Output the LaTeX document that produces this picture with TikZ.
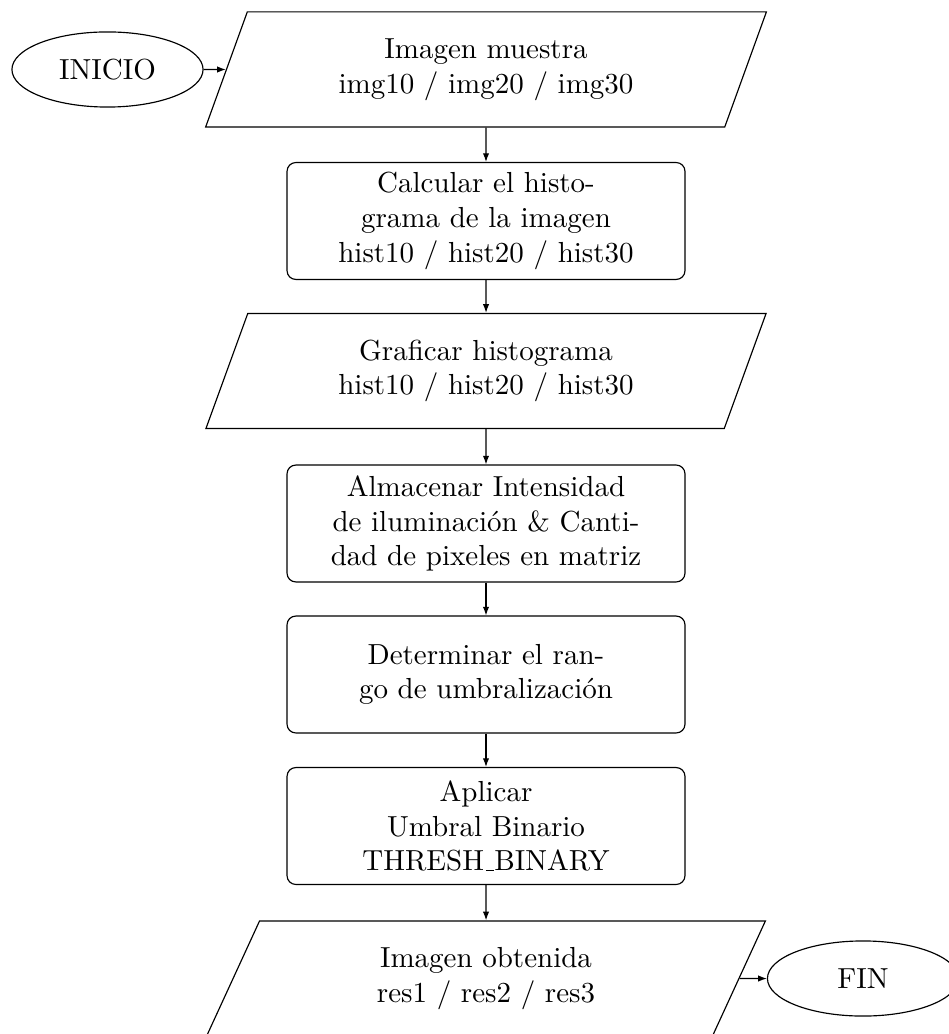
\documentclass[tikz,border=0pt]{standalone}
\usetikzlibrary{shapes.geometric,arrows.meta}
\begin{document}
\begin{tikzpicture}[x=0.3448pt,y=-0.3448pt,
  io/.style={trapezium, trapezium left angle=70, trapezium right angle=110, draw, line width=0.4pt,
    minimum width=193.4pt, minimum height=39.7pt, trapezium stretches=true, align=center, inner sep=2pt},
  proc/.style={rectangle, rounded corners=3pt, draw, line width=0.4pt, minimum width=137.2pt,
    minimum height=40.3pt, align=center, inner sep=2pt},
  term/.style={ellipse, draw, line width=0.4pt, minimum width=65.9pt, minimum height=25.9pt, inner sep=1pt},
  arr/.style={draw, line width=0.4pt, -{Latex[length=3pt,width=2.2pt]}}]
\useasboundingbox (0,0) rectangle (948,1034);
\node[term] (ini) at (107.5,69.5) {INICIO};
\node[io] (p1) at (486,69.5) {Imagen muestra\\img10 / img20 / img30};
\node[proc] (b2) at (486,221) {Calcular el histo-\\grama de la imagen\\hist10 / hist20 / hist30};
\node[io] (p2) at (486,371) {Graficar histograma\\hist10 / hist20 / hist30};
\node[proc] (b3) at (486,523.5) {Almacenar Intensidad\\de iluminación \& Canti-\\dad de pixeles en matriz};
\node[proc] (b4) at (486,674.5) {Determinar el ran-\\go de umbralización};
\node[proc] (b5) at (486,826) {Aplicar\\Umbral Binario\\THRESH\kern.06em\vbox{\hrule width.3em}BINARY};
\node[io] (p3) at (486,978.5) {Imagen obtenida\\res1 / res2 / res3};
\node[term] (fin) at (863,978.5) {FIN};
\draw[arr] (ini) -- (p1);
\draw[arr] (p1) -- (b2);
\draw[arr] (b2) -- (p2);
\draw[arr] (p2) -- (b3);
\draw[arr] (b3) -- (b4);
\draw[arr] (b4) -- (b5);
\draw[arr] (b5) -- (p3);
\draw[arr] (p3) -- (fin);
\end{tikzpicture}
\end{document}
